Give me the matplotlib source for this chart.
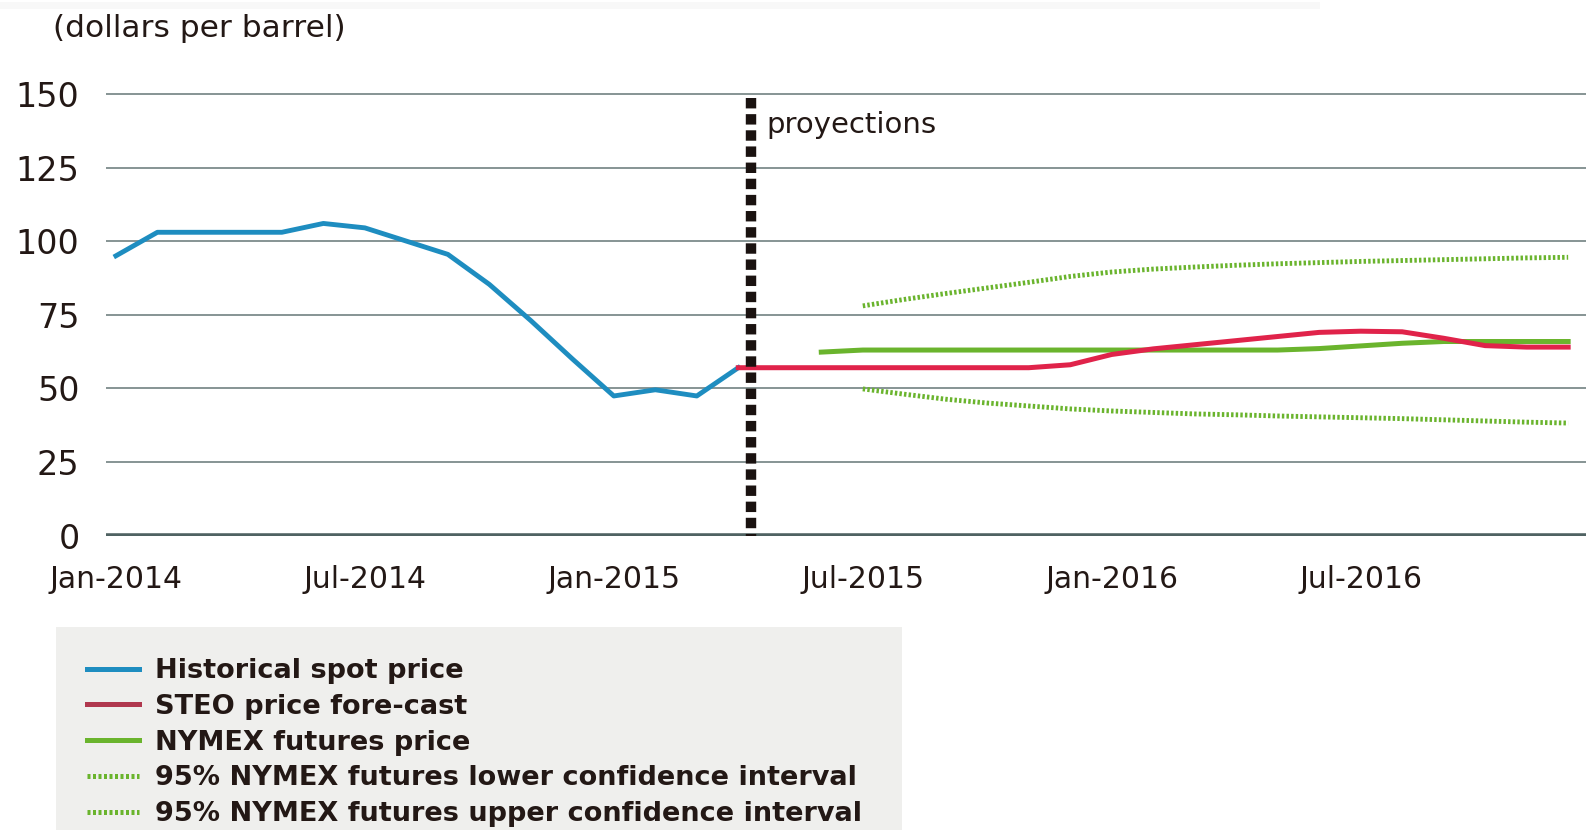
import matplotlib.pyplot as plt
from matplotlib.lines import Line2D
from matplotlib.patches import Rectangle

plt.rcParams['font.family'] = ['DejaVu Sans']

# months counted from Jan-2014 (0) to Dec-2016 (35)
spot_months = list(range(0, 16))
spot_price = [95, 103, 103, 103, 103, 106, 104.5, 100, 95.5, 85.3, 73, 60,
              47.4, 49.5, 47.4, 57]

steo_months = list(range(15, 36))
steo_price = [57, 57, 57, 57, 57, 57, 57, 57, 58, 61.5, 63.4, 64.8, 66.2,
              67.6, 69, 69.4, 69.2, 67, 64.5, 64, 64]

nymex_months = list(range(17, 36))
nymex_price = [62.3, 63, 63, 63, 63, 63, 63, 63, 63, 63, 63, 63, 63.5, 64.4,
               65.3, 65.9, 65.9, 65.9, 65.9]

ci_months = list(range(18, 36))
ci_upper = [78, 80.2, 82.2, 84.1, 86, 88, 89.5, 90.5, 91.2, 91.8, 92.3, 92.7,
            93.1, 93.4, 93.7, 94, 94.3, 94.5]
ci_lower = [49.8, 48, 46.3, 45, 44, 43, 42.3, 41.8, 41.3, 41, 40.6, 40.3, 40,
            39.7, 39.3, 38.9, 38.5, 38.2]

x_tick_pos = [0, 6, 12, 18, 24, 30]
x_tick_labels = ["Jan-2014", "Jul-2014", "Jan-2015", "Jul-2015", "Jan-2016", "Jul-2016"]
y_ticks = [0, 25, 50, 75, 100, 125, 150]
projection_start = 15.3

blue = "#1e8dc0"
red = "#e0234a"
green = "#6ab42d"
text_col = "#231815"

fig = plt.figure(figsize=(15.86, 8.30), dpi=100)
ax = fig.add_axes([0.0668, 0.3548, 0.9332, 0.5356])

for y in y_ticks[1:]:
    ax.axhline(y, color="#7d8b8b", linewidth=1.3, zorder=1)
ax.axhline(0, color="#4f6262", linewidth=4, zorder=2)

ax.plot(spot_months, spot_price, color=blue, linewidth=3.5, zorder=4)
ax.plot(steo_months, steo_price, color=red, linewidth=3.6, zorder=4)
ax.plot(nymex_months, nymex_price, color=green, linewidth=3.6, zorder=3)
ax.plot(ci_months, ci_upper, color=green, linewidth=3.5, linestyle=(0, (0.5, 0.45)), zorder=3)
ax.plot(ci_months, ci_lower, color=green, linewidth=3.5, linestyle=(0, (0.5, 0.45)), zorder=3)

ax.plot([projection_start, projection_start], [148.6, 0], color="#1a1210",
        linewidth=7.5, linestyle=(0, (1, 0.55)), zorder=5, solid_capstyle="butt")
ax.text(15.67, 139.3, "proyections", fontsize=21, color=text_col, va="center", ha="left")

ax.set_xlim(-0.24, 35.43)
ax.set_ylim(0, 151)
for s in ax.spines.values():
    s.set_visible(False)
ax.set_yticks(y_ticks)
ax.set_yticklabels([str(v) for v in y_ticks], fontsize=24, color=text_col)
ax.set_xticks(x_tick_pos)
ax.set_xticklabels(x_tick_labels, fontsize=21.5, color=text_col)
ax.tick_params(axis="y", length=0, pad=19)
ax.tick_params(axis="x", length=0, pad=21)

fig.text(0.0334, 0.966, "(dollars per barrel)", fontsize=22.5, color=text_col, va="center")
fig.add_artist(Line2D([0.0, 0.83], [0.994, 0.994], color="#f8f8f8", linewidth=5))

fig.add_artist(Rectangle((0.035, 0.0), 0.534, 0.2446, transform=fig.transFigure,
                         facecolor="#efefed", edgecolor="none", zorder=0))

handles = [
    Line2D([], [], color=blue, linewidth=3.6),
    Line2D([], [], color="#b0384e", linewidth=3.6),
    Line2D([], [], color=green, linewidth=3.6),
    Line2D([], [], color=green, linewidth=3.6, linestyle=(0, (0.6, 0.5))),
    Line2D([], [], color=green, linewidth=3.6, linestyle=(0, (0.6, 0.5))),
]
labels = ["Historical spot price", "STEO price fore-cast", "NYMEX futures price",
          "95% NYMEX futures lower confidence interval",
          "95% NYMEX futures upper confidence interval"]
leg = fig.legend(handles, labels, loc="upper left", bbox_to_anchor=(0.0549, 0.207),
                 frameon=False, borderpad=0, borderaxespad=0, handlelength=1.9,
                 handletextpad=0.6, labelspacing=0.36,
                 prop={"size": 19.5, "weight": "bold"})
for t in leg.get_texts():
    t.set_color(text_col)

fig.savefig("out.png", dpi=100)
